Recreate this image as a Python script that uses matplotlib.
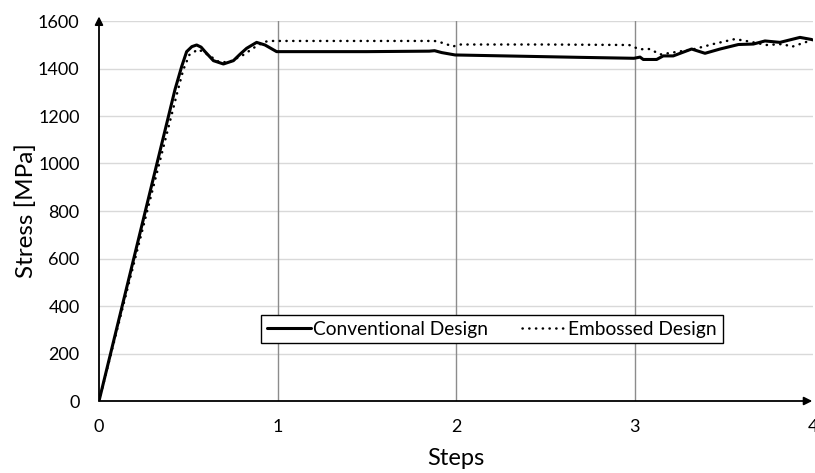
import matplotlib
matplotlib.use("Agg")
import matplotlib.pyplot as plt

plt.rcParams['font.family'] = ['Lato', 'DejaVu Sans']

conv_x = [0, 0.426, 0.463, 0.491, 0.52, 0.547, 0.572, 0.594, 0.641, 0.697, 0.753, 0.79, 0.827,
          0.883, 0.93, 0.995, 1.5, 1.85, 1.88, 1.92, 1.995, 2.69, 2.997, 3.031, 3.049, 3.124,
          3.161, 3.217, 3.32, 3.395, 3.479, 3.582, 3.666, 3.731, 3.815, 3.927, 3.993]
conv_y = [0, 1312, 1408, 1471, 1492, 1499, 1490, 1471, 1433, 1419, 1433, 1460, 1485,
          1510, 1499, 1471, 1471, 1473, 1475, 1467, 1457, 1447, 1443, 1448, 1438, 1438,
          1453, 1453, 1482, 1464, 1482, 1501, 1503, 1516, 1510, 1531, 1522]

emb_x = [0, 0.443, 0.472, 0.506, 0.556, 0.612, 0.678, 0.734, 0.808, 0.883, 0.93, 0.97,
         1.5, 1.88, 1.94, 1.98, 2.02, 2.5, 2.97, 3.027, 3.087, 3.143, 3.246, 3.33,
         3.441, 3.563, 3.647, 3.74, 3.833, 3.88, 3.955, 4.0]
emb_y = [0, 1312, 1394, 1457, 1481, 1457, 1425, 1429, 1457, 1495, 1513, 1516,
         1516, 1516, 1505, 1492, 1501, 1501, 1499, 1481, 1482, 1459, 1471, 1481,
         1503, 1524, 1513, 1499, 1503, 1491, 1510, 1520]

y_ticks = [0, 200, 400, 600, 800, 1000, 1200, 1400, 1600]
x_ticks = [0, 1, 2, 3, 4]

fig = plt.figure(figsize=(8.15, 4.73), dpi=100)
ax = fig.add_axes([99/815, 72/473, 714/815, 380/473])
ax.set_xlim(0, 4)
ax.set_ylim(0, 1600)

for y in y_ticks[1:]:
    ax.axhline(y, color='#d9d9d9', lw=1.0, zorder=0)
for x in x_ticks[1:4]:
    ax.axvline(x, color='#8c8c8c', lw=1.0, zorder=0)

ax.plot(conv_x, conv_y, color='black', lw=2.2, label='Conventional Design', zorder=3,
        solid_joinstyle='round', solid_capstyle='round')
ax.plot(emb_x, emb_y, color='black', lw=1.8, linestyle=(0, (0.1, 2.6)), dash_capstyle='round',
        label='Embossed Design', zorder=3)

for s in ['top', 'right', 'left', 'bottom']:
    ax.spines[s].set_visible(False)

ax.annotate('', xy=(0, 1.012), xytext=(0, 0), xycoords='axes fraction',
            arrowprops=dict(arrowstyle='-|>', color='black', lw=1.3, mutation_scale=12, shrinkA=0, shrinkB=0), annotation_clip=False)
ax.annotate('', xy=(0.999, 0), xytext=(0, 0), xycoords='axes fraction',
            arrowprops=dict(arrowstyle='-|>', color='black', lw=1.3, mutation_scale=12, shrinkA=0, shrinkB=0), annotation_clip=False)

ax.set_xticks(x_ticks)
ax.set_yticks(y_ticks)
ax.tick_params(axis='both', length=0, labelsize=13, colors='black')
ax.tick_params(axis='x', pad=13)
ax.tick_params(axis='y', pad=14)
ax.set_xlabel('Steps', fontsize=17, labelpad=9)
ax.set_ylabel('Stress [MPa]', fontsize=17.5, labelpad=1)

leg = ax.legend(loc='center', bbox_to_anchor=(0.550, 0.189), ncol=2, fontsize=13.8,
                frameon=True, fancybox=False, edgecolor='black', handlelength=2.3,
                columnspacing=1.8, borderpad=0.3, handletextpad=0.1)
leg.get_frame().set_linewidth(1.0)
leg.get_frame().set_alpha(1)

fig.savefig('out.png', dpi=100)
